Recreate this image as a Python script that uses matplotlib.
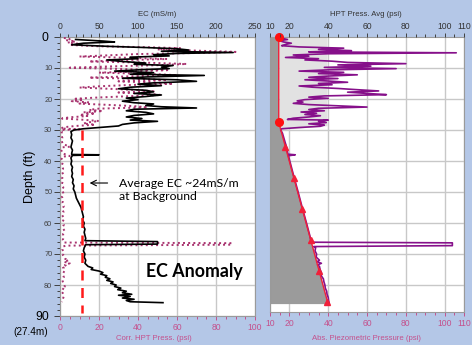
import matplotlib
matplotlib.use("Agg")
import matplotlib.pyplot as plt
import numpy as np

# ---------------- data ----------------
# EC log (top axis of left panel, mS/m) vs depth (ft)
ec_depth = [0.8, 1.3, 1.6, 2.0, 2.5, 3.0, 3.4, 3.8, 4.2, 4.6, 5.0, 5.3, 5.7, 6.1, 6.5, 7.0, 7.4, 7.9,
            8.4, 8.8, 9.2, 9.7, 10.2, 10.6, 11.0, 11.5, 12.0, 12.4, 12.9, 13.3, 13.8, 14.3, 14.8, 15.2,
            15.7, 16.2, 16.7, 17.2, 17.7, 18.2, 18.7, 19.2, 19.7, 20.2, 20.7, 21.2, 21.6, 22.1, 22.5,
            22.9, 23.3, 23.8, 24.3, 24.8, 25.3, 25.8, 26.3, 26.8, 27.2, 27.7, 28.2, 28.7, 29.2, 29.6,
            30.0, 30.5, 31.5, 32.5, 33.5, 34.5, 35.5, 36.5, 37.5, 37.9, 38.0, 38.2, 39.0, 40.0, 41.0,
            42.0, 43.0, 44.0, 45.0, 46.0, 47.0, 48.0, 49.0, 50.0, 51.0, 52.0, 53.0, 54.0, 55.0, 56.0,
            57.0, 58.0, 59.0, 60.0, 61.0, 62.0, 63.0, 64.0, 65.0, 65.7, 66.0, 66.8, 67.0, 68.0, 69.0,
            70.0, 71.0, 72.0, 73.0, 74.0, 74.5, 75.0, 75.5, 76.0, 76.5, 77.0, 77.5, 78.0, 78.5, 79.0,
            79.5, 80.0, 80.5, 81.0, 81.5, 82.0, 82.5, 83.0, 83.3, 83.7, 84.2, 84.6, 85.0, 85.4, 85.7]
ec_value = [20, 55, 70, 30, 15, 60, 110, 150, 165, 130, 222, 150, 120, 140, 90, 100, 60, 80,
            110, 95, 145, 130, 140, 100, 70, 120, 90, 185, 110, 80, 150, 175, 120, 100,
            130, 90, 75, 110, 120, 95, 130, 110, 85, 100, 80, 95, 120, 110, 130,
            175, 95, 85, 110, 120, 95, 85, 105, 90, 125, 95, 80, 75, 50, 30,
            18, 14, 15, 14, 16, 15, 14, 16, 15, 15, 50, 16, 14, 15, 14,
            16, 15, 16, 15, 17, 16, 18, 17, 19, 20, 21, 23, 25, 27, 28,
            29, 30, 29, 31, 30, 32, 31, 32, 33, 32, 125, 125, 33, 31, 30,
            32, 31, 33, 32, 36, 42, 40, 50, 55, 52, 60, 58, 64, 60, 68,
            65, 72, 70, 78, 74, 85, 80, 92, 75, 90, 80, 95, 85, 90, 132]

# Corrected HPT pressure (bottom axis of left panel, psi)
chpt_depth = [0.3, 0.7, 1.0, 1.4, 1.8, 2.2, 2.6, 3.0, 3.3, 3.6, 4.0, 4.4, 4.8, 5.1, 5.5, 5.9, 6.3,
              6.7, 7.1, 7.5, 7.9, 8.3, 8.7, 9.1, 9.5, 9.9, 10.3, 10.7, 11.1, 11.5, 11.9, 12.3, 12.7,
              13.1, 13.5, 13.9, 14.3, 14.7, 15.1, 15.5, 15.9, 16.3, 16.7, 17.1, 17.5, 17.9, 18.3,
              18.7, 19.1, 19.5, 19.9, 20.3, 20.7, 21.1, 21.5, 21.9, 22.3, 22.7, 23.1, 23.5, 23.9,
              24.3, 24.7, 25.1, 25.5, 25.9, 26.3, 26.7, 27.1, 27.5, 27.9, 28.3, 28.7, 29.1, 29.5,
              29.8, 30.0, 30.5, 31.5, 32.5, 33.5, 34.5, 35.4, 35.6, 36.5, 37.5, 38.4, 38.6, 39.5,
              40.5, 41.5, 42.5, 43.5, 44.5, 45.5, 46.5, 47.5, 48.5, 49.5, 50.5, 51.5, 52.5, 53.5,
              54.5, 55.5, 56.5, 57.5, 58.5, 59.5, 60.5, 61.5, 62.5, 63.5, 64.5, 65.5, 66.3, 66.5,
              67.0, 67.3, 67.6, 68.5, 69.5, 70.5, 71.5, 72.0, 72.5, 73.0, 73.5, 74.0, 74.5, 75.5,
              76.5, 77.5, 78.5, 79.5, 80.5, 81.0, 81.5, 82.5, 83.5, 84.5, 85.5]
chpt_value = [2, 5, 3, 8, 4, 10, 6, 20, 45, 62, 50, 70, 90, 75, 40, 25, 10,
              35, 55, 30, 15, 45, 65, 50, 25, 5, 30, 55, 40, 20, 45, 60, 35,
              15, 40, 55, 30, 48, 58, 35, 20, 10, 25, 40, 48, 30, 45,
              52, 35, 20, 8, 12, 6, 15, 10, 25, 38, 45, 20, 15, 22,
              12, 18, 10, 14, 5, 1, 12, 20, 15, 12, 18, 8, 2, 0.5,
              10, 0.5, 1.0, 0.6, 1.2, 0.8, 1.5, 5, 1, 0.7, 1.2, 5, 1.0, 0.8,
              1.4, 0.9, 1.6, 1.0, 1.8, 1.1, 1.5, 0.9, 1.7, 1.2, 1.8, 1.0, 1.6, 1.3,
              2.0, 1.2, 1.8, 1.1, 2.2, 1.4, 2.0, 1.3, 2.3, 1.5, 2.0, 1.4, 2.0, 88,
              88, 3, 1.5, 1.2, 2.0, 1.5, 2.5, 4.5, 2.0, 5, 2.5, 3.5, 1.5, 2.2,
              1.4, 2.0, 1.2, 1.8, 2.5, 1.0, 2.2, 1.3, 2.0, 1.5, 1.0]

# HPT pressure average (top axis of right panel, psi)
hpt_depth = [0.0, 0.4, 0.8, 1.2, 1.6, 2.0, 2.4, 2.8, 3.2, 3.6, 4.0, 4.4, 4.8, 5.1, 5.4, 5.8, 6.2,
             6.6, 7.0, 7.4, 7.8, 8.2, 8.6, 9.0, 9.4, 9.8, 10.2, 10.6, 11.0, 11.4, 11.8, 12.2, 12.6,
             13.0, 13.4, 13.8, 14.2, 14.6, 15.0, 15.4, 15.8, 16.2, 16.6, 17.0, 17.4, 17.8, 18.2,
             18.6, 19.0, 19.4, 19.8, 20.2, 20.6, 21.0, 21.4, 21.8, 22.2, 22.6, 23.0, 23.4, 23.8,
             24.2, 24.6, 25.0, 25.4, 25.8, 26.2, 26.6, 26.8, 27.2, 27.6, 28.0, 28.4, 28.8, 29.2,
             29.6, 30.0, 31.0, 34.0, 36.0, 37.8, 38.0, 38.3, 40.0, 45.0, 50.0, 55.0, 60.0, 64.0,
             66.2, 66.4, 67.3, 67.6, 68.0, 69.0, 70.0, 71.0, 72.0, 72.5, 73.0, 73.5, 74.0, 75.0,
             76.0, 77.0, 78.0, 79.0, 80.0, 81.0, 82.0, 83.0, 84.0, 85.0, 85.8]
hpt_value = [14.5, 16, 19, 15, 17, 21, 18, 16, 25, 48, 35, 52, 30, 106, 40, 22, 30,
             18, 35, 28, 42, 50, 80, 45, 62, 38, 75, 40, 25, 48, 35, 55, 40,
             30, 45, 28, 40, 50, 35, 42, 25, 32, 45, 55, 66, 50, 60,
             70, 38, 30, 40, 28, 24, 27, 22, 30, 45, 60, 35, 30, 38,
             26, 34, 28, 36, 30, 22, 19, 40, 35, 39, 30, 38, 36, 25,
             16, 15.5, 16.4, 17.8, 18.8, 19.2, 23, 19.5, 20.2, 22.3, 24.5, 26.6, 28.8, 30.5,
             31.3, 104, 104, 32.5, 33.5, 33.2, 34, 33.8, 35.5, 34.2, 36.5, 34.5, 35.5, 35.8,
             36.5, 36.4, 37.5, 37.8, 38.3, 38.5, 39.2, 39.4, 40, 40.2, 40.5]

# Absolute piezometric (hydrostatic) pressure line (bottom axis of right panel, psi)
piezo_depth = [0.0, 27.5, 86.0]
piezo_value = [14.5, 14.5, 39.9]
piezo_dot_depth = [0.0, 27.5]
piezo_dot_value = [14.5, 14.5]
piezo_tri_depth = [35.5, 45.5, 55.5, 65.5, 75.5, 85.5]
piezo_tri_value = [17.9, 22.2, 26.6, 30.9, 35.3, 39.6]
# light grey band (upper vadose zone)
band_depth = [0.0, 28.6, 29.9]
band_left = [14.5, 14.7, 15.5]
band_right = [39.4, 39.4, 15.5]

background_ec = 28
background_depth = [30, 89]

left_top_ticks = [0, 50, 100, 150, 200, 250]
left_bottom_ticks = [0, 20, 40, 60, 80, 100]
right_ticks = [10, 20, 40, 60, 80, 100, 110]
depth_ticks = [0, 10, 20, 30, 40, 50, 60, 70, 80, 90]

# ---------------- style ----------------
BG = '#B4C7E7'
PINK = '#C4508C'
DARK = '#404040'
GRID = '#C8C8C8'
FONT = ['Liberation Sans', 'DejaVu Sans']
plt.rcParams['font.family'] = FONT

W, H = 472, 345
fig = plt.figure(figsize=(W / 100, H / 100), dpi=100, facecolor=BG)


def box(x0, y0, x1, y1):
    return [x0 / W, 1 - y1 / H, (x1 - x0) / W, (y1 - y0) / H]


def style_axes(ax, axt, xt_bottom, xt_top):
    ax.set_facecolor('white')
    for s in ax.spines.values():
        s.set_color('#9a9a9a')
        s.set_linewidth(0.8)
    for s in axt.spines.values():
        s.set_visible(False)
    ax.set_xticks(xt_bottom)
    ax.tick_params(axis='x', which='both', direction='out', colors=PINK, labelsize=6.2,
                   pad=2, length=3, width=0.7)
    ax.tick_params(axis='x', which='minor', length=2)
    axt.set_xticks(xt_top)
    axt.tick_params(axis='x', which='both', direction='out', colors=DARK, labelsize=6.2,
                    pad=1.5, length=3, width=0.7)
    axt.tick_params(axis='x', which='minor', length=2)
    axt.tick_params(axis='x', labelcolor='#333333')
    ax.grid(True, which='major', color=GRID, linewidth=1.0)
    ax.set_axisbelow(True)


# ---------------- left panel ----------------
ax1 = fig.add_axes(box(60, 37, 255, 316))
ax1.set_xlim(0, 100)
ax1.set_ylim(90, 0)
ax1t = ax1.twiny()
ax1t.set_xlim(0, 250)
ax1t.set_ylim(90, 0)
style_axes(ax1, ax1t, left_bottom_ticks, left_top_ticks)
ax1.set_xticks(np.arange(0, 101, 5), minor=True)
ax1t.set_xticks(np.arange(0, 251, 10), minor=True)
ax1.set_yticks(depth_ticks)
ax1.set_yticks(np.arange(0, 91, 2), minor=True)
ax1.set_yticklabels([''] + [str(v) for v in depth_ticks[1:-1]] + [''])
ax1.tick_params(axis='y', which='both', direction='out', colors=DARK, labelsize=5.3,
                length=4, width=0.7, pad=1.5)
ax1.tick_params(axis='y', which='minor', length=2.5)

ax1.plot(chpt_value, chpt_depth, color='#A8336F', linestyle=':', linewidth=1.4, zorder=3)
ax1t.plot(ec_value, ec_depth, color='black', linewidth=1.2, zorder=4)
ax1t.plot([background_ec, background_ec], background_depth, color='#FF1A1A',
          linestyle=(0, (4, 3)), linewidth=1.8, zorder=5)

ax1t.annotate('', xy=(38, 47.1), xytext=(61, 47.1),
              arrowprops=dict(arrowstyle='->', color='black', lw=0.8, shrinkA=0, shrinkB=0))
ax1t.text(76, 49.3, 'Average EC ~24mS/m\nat Background', fontsize=8.8,
          family=['Lato', 'DejaVu Sans'], va='center', ha='left', linespacing=1.25)
ax1t.text(172, 75.8, 'EC Anomaly', fontsize=12.8, fontweight='bold',
          family=['Lato', 'DejaVu Sans'], va='center', ha='center')

# ---------------- right panel ----------------
ax2 = fig.add_axes(box(270, 37, 464, 312))
ax2.set_xlim(10, 110)
ax2.set_ylim(275 / 3.1, 0)
ax2t = ax2.twiny()
ax2t.set_xlim(10, 110)
ax2t.set_ylim(275 / 3.1, 0)
style_axes(ax2, ax2t, right_ticks, right_ticks)
ax2.set_xticks(np.arange(10, 111, 5), minor=True)
ax2t.set_xticks(np.arange(10, 111, 5), minor=True)
ax2.set_yticks(depth_ticks[1:-1])
ax2.tick_params(axis='y', which='both', left=False, labelleft=False)

ax2.fill_betweenx(piezo_depth, 10, piezo_value, color='#9B9B9B', linewidth=0, zorder=2)
ax2.fill_betweenx(band_depth, band_left, band_right, color='#E2E2E2', linewidth=0, zorder=2)
ax2.plot(hpt_value, hpt_depth, color='#86108A', linewidth=1.2, zorder=4)
ax2.plot(piezo_value, piezo_depth, color='#F0203A', linewidth=1.0, zorder=5)
ax2.plot(piezo_dot_value, piezo_dot_depth, 'o', color='#FF1010', markersize=5.5, zorder=6,
         clip_on=False)
ax2.plot(piezo_tri_value, piezo_tri_depth, '^', color='#F0203A', markersize=4.5, zorder=6)

# ---------------- labels ----------------
fig.text(157 / W, 1 - 14 / H, 'EC (mS/m)', fontsize=5.6, color='#333333', ha='center', va='center')
fig.text(366 / W, 1 - 14 / H, 'HPT Press. Avg (psi)', fontsize=5.6, color='#333333',
         ha='center', va='center')
fig.text(154 / W, 1 - 339 / H, 'Corr. HPT Press. (psi)', fontsize=5.6, color=PINK,
         ha='center', va='center')
fig.text(366 / W, 1 - 339 / H, 'Abs. Piezometric Pressure (psi)', fontsize=5.6, color=PINK,
         ha='center', va='center')
fig.text(30 / W, 1 - 177 / H, 'Depth (ft)', fontsize=9, rotation=90, ha='center', va='center',
         color='black')
fig.text(48 / W, 1 - 38 / H, '0', fontsize=8.8, ha='right', va='center', color='black')
fig.text(49 / W, 1 - 317 / H, '90', fontsize=8.8, ha='right', va='center', color='black')
fig.text(31 / W, 1 - 332 / H, '(27.4m)', fontsize=7.2, ha='center', va='center', color='black')

fig.savefig('out.png', dpi=100, facecolor=BG)
